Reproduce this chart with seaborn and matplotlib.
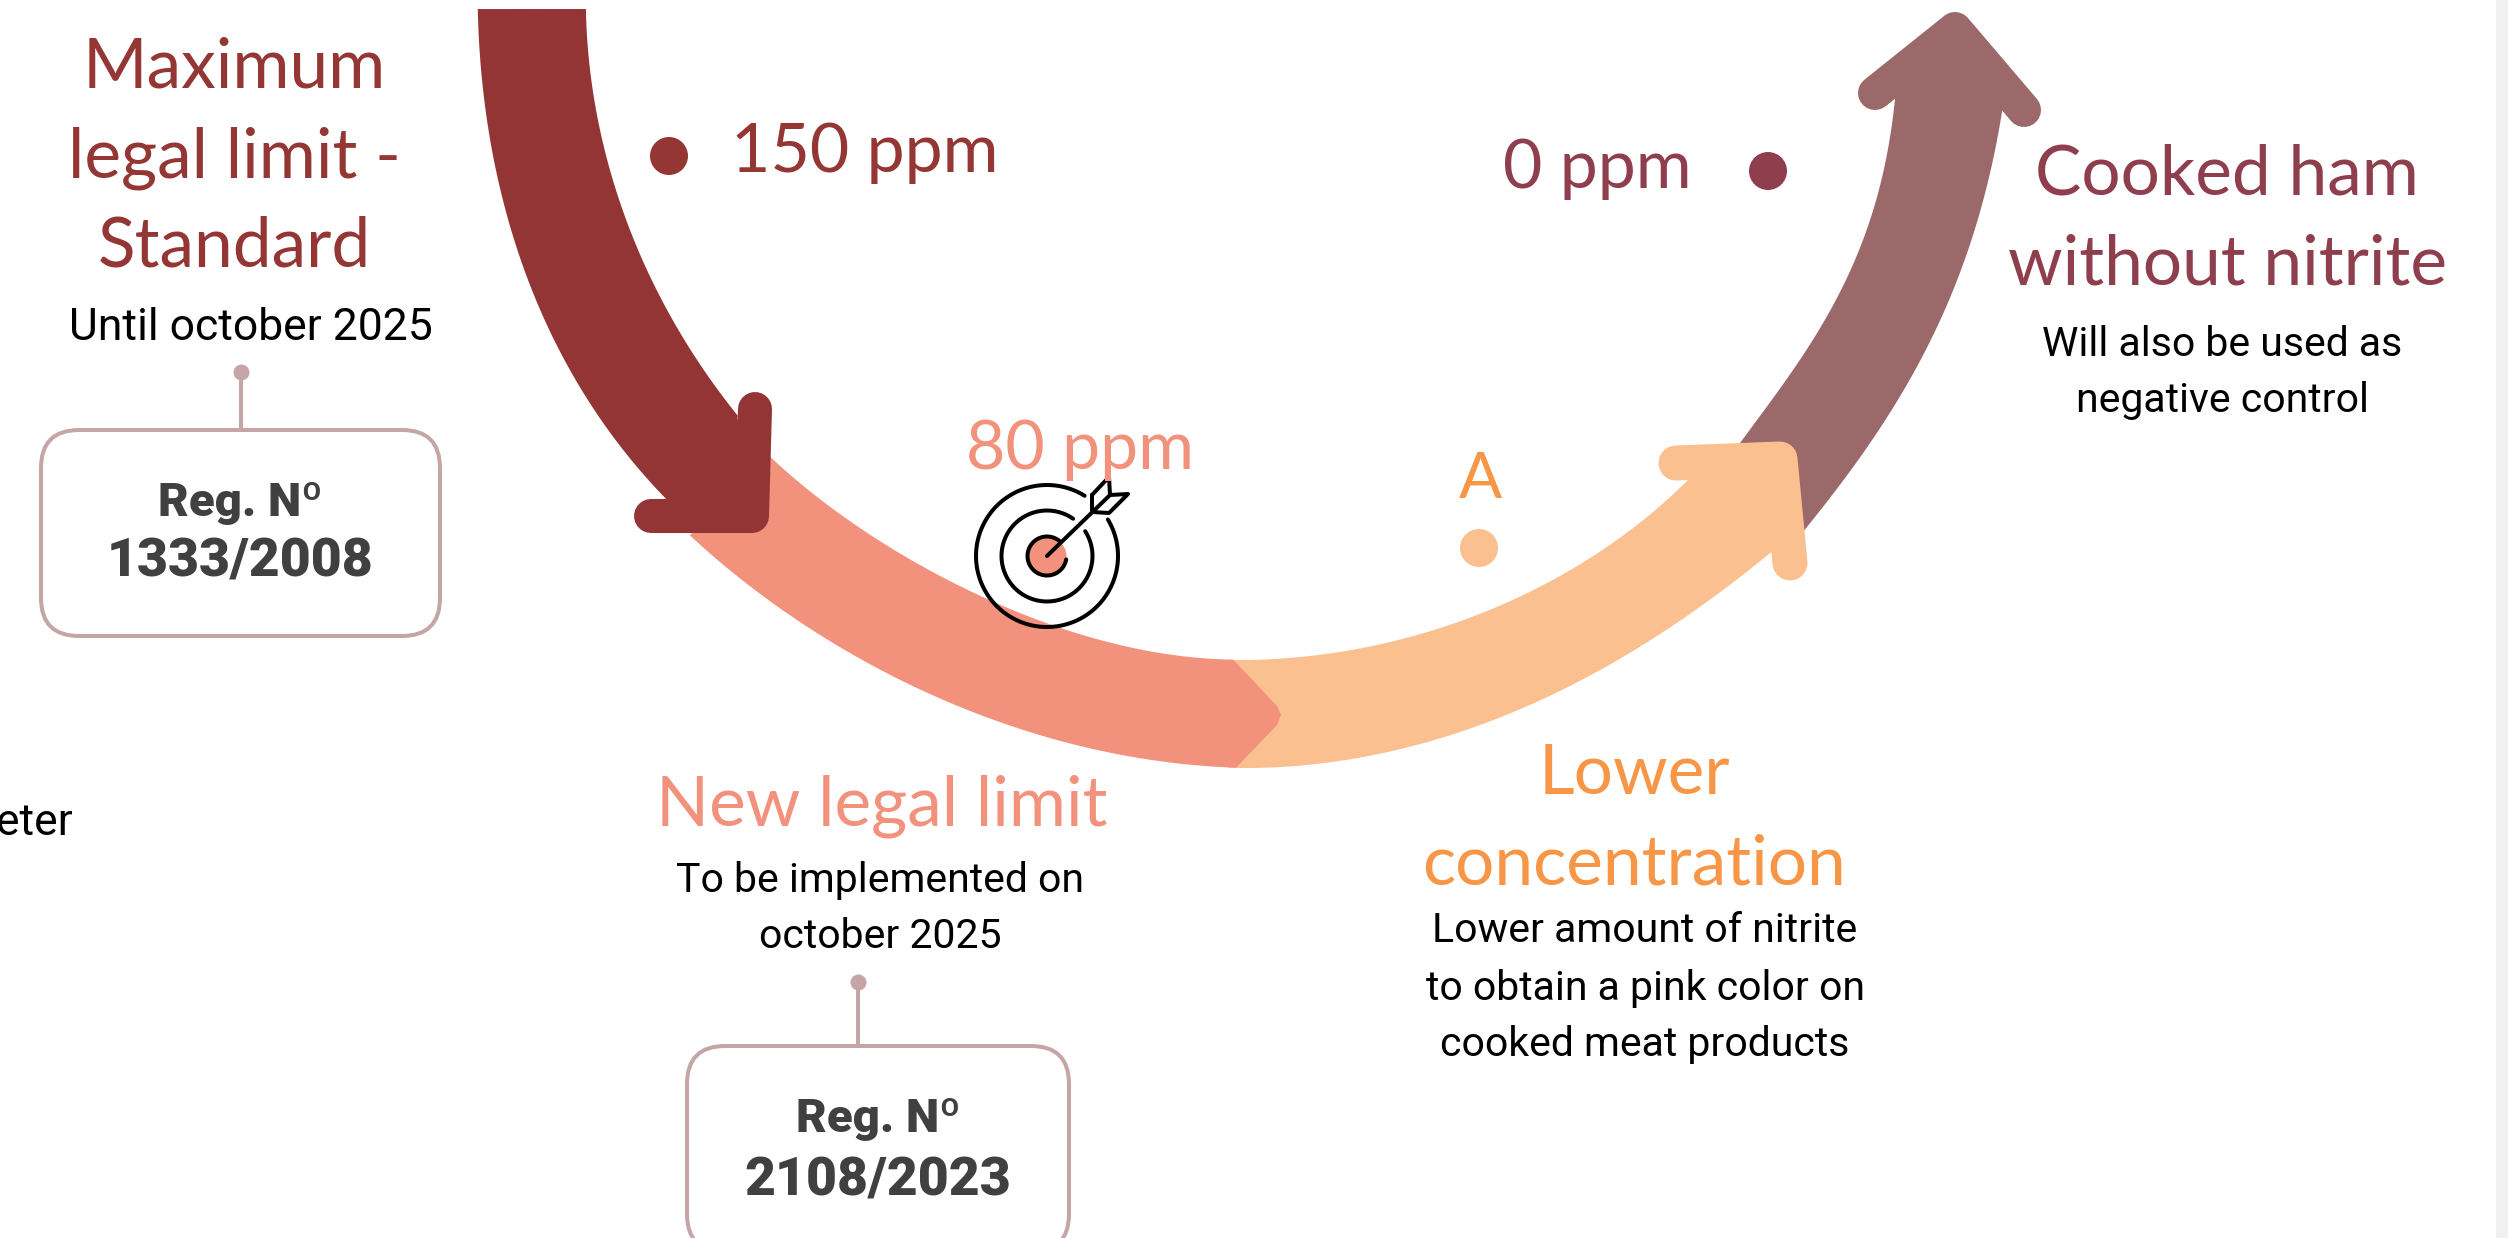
import numpy as np
import pandas as pd
import matplotlib
matplotlib.use("Agg")
import matplotlib.pyplot as plt
from matplotlib.patches import Polygon, FancyBboxPatch, Rectangle
import seaborn as sns

# Nitrite levels shown along the curve
level_labels = ["150 ppm", "80 ppm", "A", "0 ppm"]
level_colors = ["#943634", "#F2917C", "#F79646", "#8F3E4E"]
dot_colors = ["#943634", "#F2917C", "#FAC090", "#8F3E4E"]
regulations = ["1333/2008", "2108/2023"]

DPI = 100
px = 72 / DPI  # one canvas pixel expressed in points

DARK, SALMON, PEACH, MAUVE = "#943535", "#F2917C", "#FAC090", "#9C696A"
BOX = "#C5A5A5"
GREY = "#404040"

sns.set_theme(style="white")
HEAD = "Lato"
BODY = "Roboto"
REG = "Roboto"

fig = plt.figure(figsize=(25.08, 12.38), dpi=DPI, facecolor="white")
ax = fig.add_axes([0, 0, 1, 1])
ax.set_xlim(0, 2508)
ax.set_ylim(1238, 0)
ax.axis("off")


def edge(pts, n=160, deg=4):
    """Smooth curve fitted along the chord length of the outline points."""
    p = np.asarray(pts, float)
    t = np.r_[0, np.cumsum(np.hypot(*np.diff(p, axis=0).T))]
    t /= t[-1]
    u = np.linspace(0, 1, n)
    return np.c_[np.polyval(np.polyfit(t, p[:, 0], deg), u),
                 np.polyval(np.polyfit(t, p[:, 1], deg), u)]


def band(inner, outer, color, z, tip=()):
    """Curved ribbon between two edges, optionally closed by a pointed end."""
    a, b = edge(inner), edge(outer)[::-1]
    outline = np.vstack([a, np.asarray(tip).reshape(-1, 2), b])
    ax.add_patch(Polygon(outline, closed=True, fc=color, ec="none", zorder=z))


def head(barb_a, corner, barb_b, neck_a, neck_b, color, width, z):
    """Arrowhead: two round-capped arms plus the wedge up to the ribbon's neck."""
    ax.add_patch(Polygon([corner, neck_a, neck_b], closed=True, fc=color, ec="none", zorder=z))
    ax.plot(*zip(barb_a, corner, barb_b), color=color, lw=width * px,
            solid_capstyle="round", solid_joinstyle="round", zorder=z)


# Ribbon sections, lowest first
band([(1740, 443), (1800, 360), (1850, 270), (1877, 200), (1890, 133), (1896, 92)],
     [(1790, 548), (1828, 500), (1900, 397), (1953, 290), (1983, 200), (1997, 143), (2003, 104)],
     MAUVE, 1)
head((1875, 93), (1955, 29), (2024, 110), (1895, 98), (2002, 110), MAUVE, 34, 1)

band([(1228, 660), (1300, 657), (1367, 647), (1450, 625), (1533, 590), (1617, 540), (1690, 478)],
     [(1228, 768), (1300, 765), (1400, 750), (1500, 717), (1600, 670), (1700, 607), (1775, 549)],
     PEACH, 2)
head((1676, 463), (1780, 459), (1790, 563), (1688, 480), (1772, 552), PEACH, 35, 2)

band([(770, 456), (795, 480), (863, 530), (930, 570), (997, 603), (1063, 630), (1180, 655), (1233, 660)],
     [(690, 535), (747, 585), (847, 650), (947, 702), (1063, 742), (1180, 763), (1236, 768)],
     SALMON, 3, tip=[(1277, 706), (1281, 715), (1277, 725)])

band([(586, 9), (590, 73), (603, 140), (623, 213), (657, 290), (697, 360), (738, 416)],
     [(478, 9), (483, 100), (497, 167), (517, 250), (550, 333), (597, 413), (668, 501)],
     DARK, 4)
head((755, 409), (752, 516), (651, 516), (737, 415), (667, 500), DARK, 34, 4)

# Level markers
dots = pd.DataFrame({"level": level_labels,
                     "x": [669, 1047, 1479, 1768],
                     "y": [156, 556, 548, 171]})
sns.scatterplot(data=dots[dots.level != "80 ppm"], x="x", y="y", hue="level",
                palette=dict(zip(level_labels, dot_colors)), s=(38 * px) ** 2,
                linewidth=0, legend=False, ax=ax, zorder=6)

# Target icon
cx, cy = 1047, 556
ink = dict(color="black", lw=4 * px, solid_capstyle="round", zorder=7)
ax.scatter([cx], [cy], s=(38 * px) ** 2, color=SALMON, linewidth=0, zorder=6)


def ring(radius, gap):
    a = np.radians(np.linspace(gap[1], gap[0] + 360, 240))
    ax.plot(cx + radius * np.cos(a), cy - radius * np.sin(a), **ink)


ring(71, (31, 58))
ring(45.5, (33, 55))
ring(19.5, (-10, 50))
ax.plot([cx, 1110], [cy, 495], **ink)
ax.plot([1092, 1109, 1110, 1128, 1109, 1092, 1092],
        [495, 477, 495, 494, 513, 512, 495], **{**ink, "solid_joinstyle": "round"})

# Regulation call-outs
for reg, (x0, y0, x1, y1), stem_x, stem_top, yy in zip(
        regulations,
        [(41, 430, 440, 636), (687, 1046, 1069, 1252)],
        [241, 858], [372, 982], [(503, 562), (1119, 1181)]):
    ax.add_patch(FancyBboxPatch((x0, y0), x1 - x0, y1 - y0,
                                boxstyle="round,pad=0,rounding_size=38",
                                fc="white", ec=BOX, lw=4 * px, zorder=3))
    ax.plot([stem_x, stem_x], [stem_top, y0], color=BOX, lw=4 * px, zorder=3)
    sns.scatterplot(x=[stem_x], y=[stem_top], color=BOX, s=(16 * px) ** 2,
                    linewidth=0, legend=False, ax=ax, zorder=3)
    ax.text((x0 + x1) / 2, yy[0], "Reg. Nº", family=REG, weight="black",
            fontsize=34, color=GREY, ha="center", va="center", zorder=5)
    ax.text((x0 + x1) / 2, yy[1], reg, family=REG, weight="black",
            fontsize=38.5, color=GREY, ha="center", va="center", zorder=5)


def big(x, y, s, color, size=50):
    ax.text(x, y + 4, s, family=HEAD, fontsize=size, color=color,
            ha="center", va="center", zorder=8)


def small(x, y, s, size=29.5):
    ax.text(x, y + 2, s, family=BODY, fontsize=size, color="black",
            ha="center", va="center", zorder=8)


for y, s in zip([64, 154, 243], ["Maximum", "legal limit -", "Standard"]):
    big(234, y, s, level_colors[0])
small(251, 326, "Until october 2025", size=32)

big(865, 149, level_labels[0], level_colors[0], size=49)
big(1597, 165, level_labels[3], level_colors[3], size=49)
big(1080, 446, level_labels[1], level_colors[1], size=49)
big(1480, 476, level_labels[2], level_colors[2], size=46)

big(882, 802, "New legal limit", level_colors[1])
for y, s in zip([878, 934], ["To be implemented on", "october 2025"]):
    small(880, y, s)

for y, s in zip([771, 861], ["Lower", "concentration"]):
    big(1634, y, s, level_colors[2])
for y, s in zip([928, 986, 1043],
                ["Lower amount of nitrite", "to obtain a pink color on",
                 "cooked meat products"]):
    small(1645, y, s)

for y, s in zip([171, 261], ["Cooked ham", "without nitrite"]):
    big(2227, y, s, level_colors[3])
for y, s in zip([342, 398], ["Will also be used as", "negative control"]):
    small(2222, y, s)

ax.text(73, 823, "eter", family=BODY, fontsize=32, color="black",
        ha="right", va="center", zorder=8)

# Scrollbar strip on the right edge
ax.add_patch(Rectangle((2496, 0), 12, 1238, fc="#F0F0F0", ec="none", zorder=9))

fig.savefig("out.png", dpi=DPI)
